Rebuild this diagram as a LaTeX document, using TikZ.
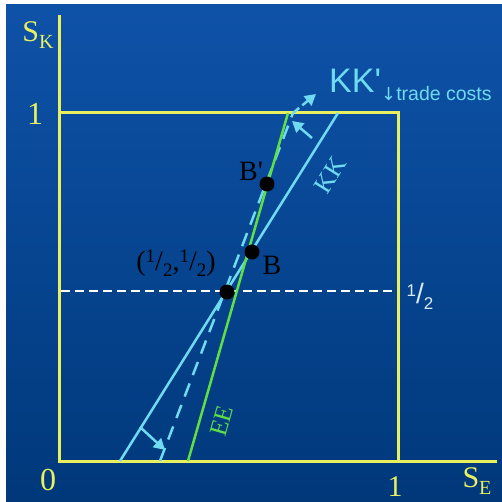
\documentclass[tikz,border=0pt]{standalone}
\usepackage{fontspec}
\setmainfont{Liberation Serif}
\newfontfamily\sansf{Liberation Sans}
\newfontfamily\arrf{DejaVu Sans}
\usetikzlibrary{arrows.meta}
\definecolor{bgtop}{RGB}{14,82,168}
\definecolor{bgbot}{RGB}{0,56,122}
\definecolor{axyel}{RGB}{232,240,96}
\definecolor{eegreen}{RGB}{96,222,70}
\definecolor{kkcyan}{RGB}{112,218,240}
\definecolor{halfcol}{RGB}{215,235,250}
\begin{document}
\begin{tikzpicture}[x=1pt,y=-1pt,
  axis/.style={axyel,line width=3pt,line join=miter},
  eeline/.style={eegreen,line width=2.5pt},
  kkline/.style={kkcyan,line width=2.5pt},
  kkdash/.style={kkcyan,line width=2.5pt,dash pattern=on 14pt off 9pt},
  kkarrow/.style={kkcyan,line width=2.5pt,-{Triangle[length=11pt,width=12pt]}},
  halfdash/.style={white,line width=1.5pt,dash pattern=on 9pt off 5pt},
  dot/.style={circle,fill=black,inner sep=0pt,minimum size=15pt},
  axlab/.style={axyel,inner sep=0pt,font=\fontsize{32}{32}\selectfont},
  blab/.style={black,inner sep=0pt,font=\fontsize{28}{28}\selectfont}]
\useasboundingbox (0,0) rectangle (502,502);
\fill[white] (0,0) rectangle (502,502);
\shade[top color=bgtop,bottom color=bgbot] (6,5) rectangle (502,502);

% axes and box
\coordinate (ytop) at (59,15);
\coordinate (orig) at (59,461);
\coordinate (xend) at (497,461);
\coordinate (tl) at (59,113);
\coordinate (tr) at (398,113);
\coordinate (br) at (398,461);
\coordinate (h1) at (61,291);
\coordinate (h2) at (395,291);
\draw[halfdash] (h1) -- (h2);
\draw[axis] (ytop) -- (orig) -- (xend);
\draw[axis] (tl) -- (tr) -- (br);

% curves
\coordinate (kk1) at (120,461);
\coordinate (kk2) at (338,113);
\coordinate (ee1) at (188,461);
\coordinate (ee2) at (288,113);
\coordinate (kd1) at (160,461);
\coordinate (kd2) at (293,113);
\coordinate (kd3) at (316,94);
\draw[kkline] (kk1) -- (kk2);
\draw[kkdash] (kd1) -- (kd2);
\draw[eeline] (ee1) -- (ee2);
\draw[kkarrow,dash pattern=on 8pt off 4pt] (kd2) -- (kd3);

% shift arrows
\coordinate (a1s) at (140,427);
\coordinate (a1e) at (165,450);
\coordinate (a2s) at (312,138);
\coordinate (a2e) at (292,121);
\draw[kkarrow] (a1s) -- (a1e);
\draw[kkarrow] (a2s) -- (a2e);

% dots
\node[dot] (half) at (227,292) {};
\node[dot] (B) at (252,252) {};
\node[dot] (Bp) at (267,184) {};

% axis labels
\node[axlab] (sk) at (38,35) {\fontsize{30}{30}\selectfont S\raisebox{-7pt}{\fontsize{20}{20}\selectfont K}};
\node[axlab] (one1) at (35,114) {1};
\node[axlab] (zero) at (48,480) {0};
\node[axlab] (one2) at (395,487) {\fontsize{30}{30}\selectfont 1};
\node[axlab] (se) at (477,481) {\fontsize{30}{30}\selectfont S\raisebox{-7pt}{\fontsize{20}{20}\selectfont E}};
\node[halfcol,inner sep=0pt] (halfr) at (420,296) {\sansf\raisebox{7pt}{\fontsize{17}{17}\selectfont 1}\fontsize{28}{28}\selectfont /\raisebox{-6pt}{\fontsize{17}{17}\selectfont 2}};

% point labels
\node[blab] (Blab) at (272,265) {B};
\node[blab] (Bplab) at (251,171) {B\textquotesingle};
\node[blab] (halflab) at (176,263) {(\raisebox{8pt}{\fontsize{19}{19}\selectfont 1}/\raisebox{-6pt}{\fontsize{19}{19}\selectfont 2},\raisebox{8pt}{\fontsize{19}{19}\selectfont 1}/\raisebox{-6pt}{\fontsize{19}{19}\selectfont 2})};

% curve labels
\node[kkcyan,inner sep=0pt,anchor=base west] (kkp) at (329,93) {\sansf\fontsize{34}{34}\selectfont KK\textquotesingle};
\node[kkcyan,inner sep=0pt,anchor=base west] (tc) at (381,101) {{\arrf\fontsize{18}{18}\selectfont ↓}\sansf\fontsize{19.5}{19.5}\selectfont trade costs};
\node[kkcyan,inner sep=0pt,rotate=58] (kklab) at (330,175) {\fontsize{26}{26}\selectfont KK};
\node[eegreen,inner sep=0pt,rotate=74] (eelab) at (222,421) {\fontsize{25}{25}\selectfont EE};
\end{tikzpicture}
\end{document}
